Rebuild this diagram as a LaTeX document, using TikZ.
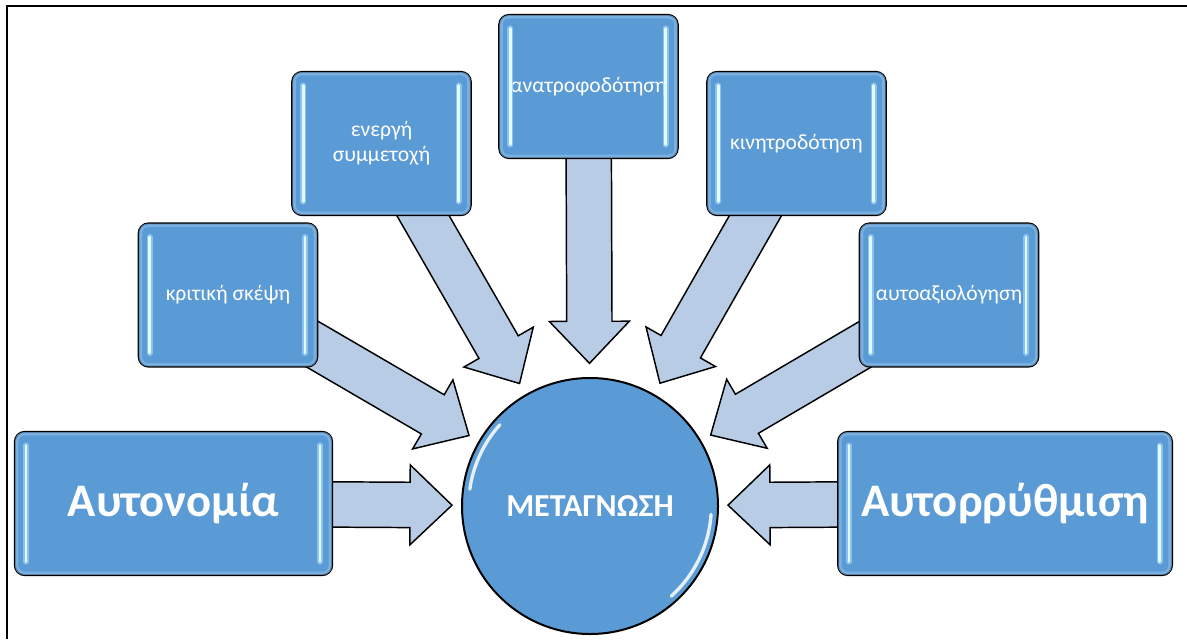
\documentclass[tikz,border=0pt]{standalone}
\usepackage{fontspec}
\setmainfont{Carlito}
\usetikzlibrary{calc}
\definecolor{boxblue}{RGB}{91,155,213}
\definecolor{arrowblue}{RGB}{184,204,230}
\definecolor{glossc}{RGB}{228,250,255}
\definecolor{glowc}{RGB}{150,205,245}
\definecolor{rimc}{RGB}{135,185,232}
\pgfdeclarelayer{bg}
\pgfsetlayers{bg,main}
\newcommand\arrsw{17pt}
\newcommand\arrhw{30pt}
\newcommand\arrhl{31.5pt}
\newcommand\barrow[2]{%
  \coordinate (#2-b) at ($(#2)!\arrhl!(#1.center)$);
  \filldraw[blockarrow] ($(#1.center)!\arrsw!90:(#2)$) -- ($(#2-b)!\arrsw!90:(#2)$) -- ($(#2-b)!\arrhw!90:(#2)$) -- (#2) -- ($(#2-b)!\arrhw!-90:(#2)$) -- ($(#2-b)!\arrsw!-90:(#2)$) -- ($(#1.center)!\arrsw!-90:(#2)$) -- cycle;
}
\newcommand\gloss[1]{%
  \draw[rimline] ([xshift=2.2pt,yshift=-2.2pt]#1.north west) rectangle ([xshift=-2.2pt,yshift=2.2pt]#1.south east);
  \draw[glowline] ([xshift=9pt,yshift=-11pt]#1.north west) -- ([xshift=9pt,yshift=11pt]#1.south west);
  \draw[glowline] ([xshift=-10pt,yshift=-11pt]#1.north east) -- ([xshift=-10pt,yshift=11pt]#1.south east);
  \draw[glossline] ([xshift=9pt,yshift=-11pt]#1.north west) -- ([xshift=9pt,yshift=11pt]#1.south west);
  \draw[glossline] ([xshift=-10pt,yshift=-11pt]#1.north east) -- ([xshift=-10pt,yshift=11pt]#1.south east);
}
\tikzset{
  box/.style={draw=black, line width=1.5pt, fill=boxblue, rounded corners=7.5pt, inner sep=0pt, text=white, align=center, font=\fontsize{16.2}{18.5}\selectfont},
  smallbox/.style={box, minimum width=134pt, minimum height=107.5pt},
  bigbox/.style={box, minimum height=107.5pt, font=\bfseries\fontsize{35}{40}\selectfont},
  hub/.style={circle, draw=black, line width=1.5pt, fill=boxblue, minimum size=192pt, inner sep=0pt, text=white, font=\bfseries\fontsize{24}{28}\selectfont},
  blockarrow/.style={fill=arrowblue, draw=black, line width=1.1pt, line join=miter},
  rimline/.style={draw=rimc, line width=2.5pt, rounded corners=5.5pt, opacity=0.7},
  glowline/.style={draw=glowc, line width=4.5pt, line cap=round, opacity=0.8},
  glossline/.style={draw=glossc, line width=2pt, line cap=round},
  hubshine/.style={draw=white, line width=2.5pt, line cap=round, opacity=0.85},
  frameline/.style={draw=black, line width=2pt}
}
\begin{document}
\begin{tikzpicture}[x=0.75pt, y=-0.75pt]
\useasboundingbox (0,0) rectangle (1187,639);
\draw[frameline] (7,639) -- (7,6) -- (1187,6);

\node[hub] (c) at (590,506) {ΜΕΤΑΓΝΩΣΗ};
\node[bigbox, minimum width=238pt] (auto) at (173.5,503.5) {Αυτονομία};
\node[bigbox, minimum width=250.5pt] (autor) at (1005,503.5) {Αυτορρύθμιση};
\node[smallbox] (krit) at (228,295) {κριτική σκέψη};
\node[smallbox] (energ) at (381.5,143.5) {ενεργή\\συμμετοχή};
\node[smallbox] (anatr) at (588.5,86.5) {ανατροφοδότηση};
\node[smallbox] (kin) at (796.5,143.5) {κινητροδότηση};
\node[smallbox] (autoax) at (949,295) {αυτοαξιολόγηση};

\foreach \n in {auto,autor,krit,energ,anatr,kin,autoax} {\gloss{\n}}
\draw[hubshine] ([shift={(c.center)}]138:91pt) arc[start angle=138, end angle=172, radius=91pt];
\draw[hubshine] ([shift={(c.center)}]-48:91pt) arc[start angle=-48, end angle=-4, radius=91pt];

\coordinate (t-auto) at ($(c.center)!103.5pt!(auto.center)$);
\coordinate (t-autor) at ($(c.center)!103.5pt!(autor.center)$);
\coordinate (t-krit) at ($(c.center)!105pt!(krit.center)$);
\coordinate (t-energ) at ($(c.center)!106pt!(energ.center)$);
\coordinate (t-anatr) at ($(c.center)!107pt!(anatr.center)$);
\coordinate (t-kin) at ($(c.center)!106pt!(kin.center)$);
\coordinate (t-autoax) at ($(c.center)!105pt!(autoax.center)$);

\begin{pgfonlayer}{bg}
\barrow{auto}{t-auto}
\barrow{autor}{t-autor}
\barrow{krit}{t-krit}
\barrow{energ}{t-energ}
\barrow{anatr}{t-anatr}
\barrow{kin}{t-kin}
\barrow{autoax}{t-autoax}
\end{pgfonlayer}
\end{tikzpicture}
\end{document}
